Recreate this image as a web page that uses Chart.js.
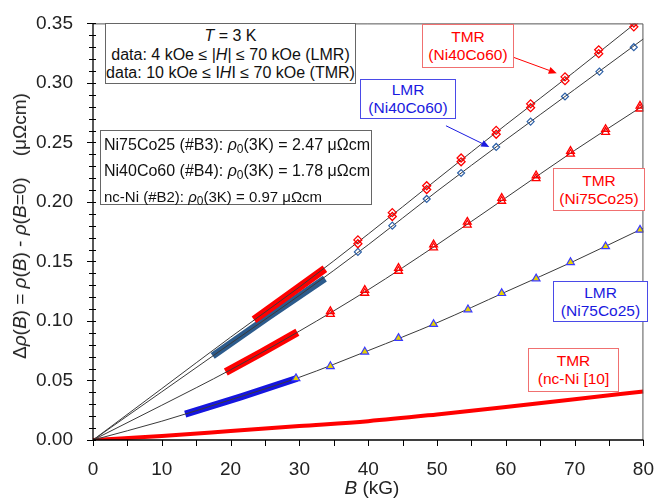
<!DOCTYPE html>
<html>
<head>
<meta charset="utf-8">
<script src="https://cdn.jsdelivr.net/npm/chart.js@4.4.1/dist/chart.umd.min.js"></script>
<style>
  html, body { margin:0; padding:0; background:#fff; }
  #wrap { position:relative; width:664px; height:500px; font-family:"Liberation Sans", Arial, sans-serif; }
  #c { position:absolute; left:0; top:0; }
  .box { position:absolute; box-sizing:border-box; background:#fff; }
  .lbl { position:absolute; box-sizing:border-box; text-align:center; font-size:15.5px; line-height:18px; background:#fff; }
  .red { color:#ff0000; border:1px solid #f07070; }
  .blue { color:#1a1ae0; border:1px solid #4a4ae8; }
  i { font-style:italic; }
</style>
</head>
<body>
<div id="wrap">
  <canvas id="c" width="664" height="500"></canvas>

  <div class="box" style="left:105px;top:23px;width:251px;height:61px;border:1px solid #666;font-size:16px;line-height:18.5px;text-align:center;color:#111;padding-top:3px;">
    <div><i>T</i> = 3 K</div>
    <div>data: 4 kOe ≤ |<i>H</i>| ≤ 70 kOe (LMR)</div>
    <div>data: 10 kOe ≤ I<i>H</i>I ≤ 70 kOe (TMR)</div>
  </div>

  <div class="box" style="left:100px;top:130px;width:272px;height:75px;border:1px solid #666;font-size:16px;line-height:22px;color:#111;padding-left:3px;padding-top:3px;white-space:nowrap;">
    <div>Ni75Co25 (#B3): <i>ρ</i><sub style="font-size:12px;vertical-align:-3px;">0</sub>(3K) = 2.47 μΩcm</div>
    <div>Ni40Co60 (#B4): <i>ρ</i><sub style="font-size:12px;vertical-align:-3px;">0</sub>(3K) = 1.78 μΩcm</div>
    <div style="font-size:15px;">nc-Ni (#B2): <i>ρ</i><sub style="font-size:12px;vertical-align:-3px;">0</sub>(3K) = 0.97 μΩcm</div>
  </div>

  <div class="lbl red"  style="left:422px;top:24px;width:92px;height:44px;padding-top:3px;">TMR<br>(Ni40Co60)</div>
  <div class="lbl blue" style="left:360px;top:79px;width:96px;height:40px;padding-top:1px;">LMR<br>(Ni40Co60)</div>
  <div class="lbl red"  style="left:553px;top:168px;width:92px;height:43px;padding-top:3px;">TMR<br>(Ni75Co25)</div>
  <div class="lbl blue" style="left:553px;top:281px;width:95px;height:41px;padding-top:2px;">LMR<br>(Ni75Co25)</div>
  <div class="lbl red"  style="left:528px;top:348px;width:91px;height:44px;padding-top:3px;">TMR<br>(nc-Ni [10]</div>

  <div id="ytitle" style="position:absolute;left:20px;top:226px;transform:translate(-50%,-50%) rotate(-90deg);white-space:nowrap;font-size:19px;color:#222;">
    Δ<i>ρ</i>(<i>B</i>) = <i>ρ</i>(<i>B</i>) - <i>ρ</i>(<i>B</i>=0)&nbsp;&nbsp;&nbsp;&nbsp;(μΩcm)
  </div>
  <div id="xtitle" style="position:absolute;left:372px;top:488px;transform:translate(-50%,-50%);white-space:nowrap;font-size:19px;color:#222;">
    <i>B</i> (kG)
  </div>
</div>

<script>
// ---------------- data ----------------
const X_TICKS = [0, 10, 20, 30, 40, 50, 60, 70, 80];
const Y_TICKS = ["0.00","0.05","0.10","0.15","0.20","0.25","0.30","0.35"];

// TMR Ni40Co60 (open red diamonds, two field polarities)
const B_TMR_4060 = [38.5, 43.5, 48.5, 53.5, 58.6, 63.6, 68.6, 73.5, 78.6];
const TMR_4060_UP = [0.1681, 0.1910, 0.2136, 0.2369, 0.2601, 0.2824, 0.3051, 0.3278, 0.3503];
const TMR_4060_DN = [0.1649, 0.1878, 0.2104, 0.2337, 0.2569, 0.2792, 0.3019, 0.3246, 0.3471];

// LMR Ni40Co60 (small open blue diamonds)
const B_LMR_4060 = [38.5, 43.5, 48.5, 53.5, 58.6, 63.6, 68.6, 73.6, 78.6];
const LMR_4060 = [0.1580, 0.1801, 0.2025, 0.2243, 0.2462, 0.2675, 0.2886, 0.3095, 0.3300];

// TMR Ni75Co25 (open red triangles, two field polarities)
const B_TMR_7525 = [34.5, 39.5, 44.4, 49.5, 54.4, 59.4, 64.4, 69.4, 74.5, 79.5];
const TMR_7525_UP = [0.1081, 0.1259, 0.1444, 0.1641, 0.1832, 0.2032, 0.2222, 0.2427, 0.2611, 0.2807];
const TMR_7525_DN = [0.1057, 0.1235, 0.1420, 0.1617, 0.1808, 0.2008, 0.2198, 0.2403, 0.2587, 0.2783];

// LMR Ni75Co25 (yellow triangles, blue edge)
const B_LMR_7525 = [29.5, 34.5, 39.5, 44.4, 49.5, 54.5, 59.4, 64.4, 69.4, 74.5, 79.5];
const LMR_7525 = [0.0518, 0.0619, 0.0741, 0.0856, 0.0973, 0.1096, 0.1233, 0.1356, 0.1493, 0.1626, 0.1765];

// dense low-field sweeps (thick bands)
const B_BAND_TMR_4060 = [23.4, 28.5, 33.7];  const BAND_TMR_4060 = [0.1010, 0.1222, 0.1438];
const B_BAND_LMR_4060 = [17.4, 25.5, 33.7];  const BAND_LMR_4060 = [0.0706, 0.1035, 0.1356];
const B_BAND_TMR_7525 = [19.3, 24.5, 29.7];  const BAND_TMR_7525 = [0.0572, 0.0735, 0.0905];
const B_BAND_LMR_7525 = [13.4, 21.5, 29.7];  const BAND_LMR_7525 = [0.0217, 0.0362, 0.0519];

// fitted curves (thin dark lines)
const B_FIT = [0, 10, 20, 30, 40, 50, 60, 70, 80];
const FIT_TMR_4060 = [0, 0.0432, 0.0864, 0.1285, 0.1730, 0.2190, 0.2648, 0.3095, 0.3555];
const FIT_LMR_4060 = [0, 0.0405, 0.0811, 0.1215, 0.1640, 0.2090, 0.2522, 0.2945, 0.3370];
const FIT_TMR_7525 = [0, 0.0292, 0.0590, 0.0915, 0.1262, 0.1640, 0.2035, 0.2433, 0.2810];
const FIT_LMR_7525 = [0, 0.0158, 0.0338, 0.0527, 0.0751, 0.0985, 0.1245, 0.1505, 0.1780];

// TMR nc-Ni [10] (thick red curve)
const B_NCNI = [0, 10, 20, 30, 40, 50, 60, 70, 80];
const TMR_NCNI = [0, 0.0034, 0.0075, 0.0117, 0.0158, 0.0215, 0.0278, 0.0342, 0.0408];

// ---------------- build ----------------
const pts = (xs, ys) => xs.map((x, i) => ({ x: x, y: ys[i] }));
const RED = '#ff0000';
const CLEAR = 'rgba(255,255,255,0)';

function band(xs, ys, color, w) {
  return { data: pts(xs, ys), showLine: true, borderColor: color, borderWidth: w,
           pointRadius: 0, borderCapStyle: 'butt', tension: 0, order: 5 };
}
function fit(xs, ys) {
  return { data: pts(xs, ys), showLine: true, borderColor: '#3a3a3a', borderWidth: 1,
           pointRadius: 0, cubicInterpolationMode: 'monotone', order: 3 };
}
function markers(xs, ys, style, stroke, fill, r, bw) {
  return { data: pts(xs, ys), showLine: false, pointStyle: style, pointRadius: r,
           pointBorderColor: stroke, pointBackgroundColor: fill, pointBorderWidth: bw, order: 1 };
}

const datasets = [
  band(B_BAND_TMR_4060, BAND_TMR_4060, RED, 8),
  band(B_BAND_LMR_4060, BAND_LMR_4060, '#2c5b8c', 7),
  band(B_BAND_TMR_7525, BAND_TMR_7525, RED, 8),
  band(B_BAND_LMR_7525, BAND_LMR_7525, '#1515e0', 7),
  { data: pts(B_NCNI, TMR_NCNI), showLine: true, borderColor: RED, borderWidth: 4,
    pointRadius: 0, cubicInterpolationMode: 'monotone', order: 4 },
  fit(B_FIT, FIT_TMR_4060),
  fit(B_FIT, FIT_LMR_4060),
  fit(B_FIT, FIT_TMR_7525),
  fit(B_FIT, FIT_LMR_7525),
  markers(B_TMR_4060, TMR_4060_UP, 'rectRot', RED, CLEAR, 4, 1.3),
  markers(B_TMR_4060, TMR_4060_DN, 'rectRot', RED, CLEAR, 4, 1.3),
  markers(B_LMR_4060, LMR_4060, 'rectRot', '#2f62a8', CLEAR, 3.5, 1.2),
  markers(B_TMR_7525, TMR_7525_UP, 'triangle', RED, CLEAR, 4.5, 1.3),
  markers(B_TMR_7525, TMR_7525_DN, 'triangle', RED, CLEAR, 4.5, 1.3),
  markers(B_LMR_7525, LMR_7525, 'triangle', '#3a3aff', '#e6d200', 4.5, 1.2)
];

// arrows from label boxes to curves, in data units
const ARROWS = [
  { from: [60.6, 0.3226], to: [67.4, 0.3082], color: RED },
  { from: [51.3, 0.2640], to: [57.6, 0.2462], color: '#1a1ae0' }
];

const framePlugin = {
  id: 'frame',
  afterDatasetsDraw(chart) {
    const ctx = chart.ctx, ca = chart.chartArea;
    const xs = chart.scales.x, ys = chart.scales.y;
    ctx.save();
    ctx.strokeStyle = '#555'; ctx.lineWidth = 1;
    ctx.beginPath();
    ctx.moveTo(ca.left, ca.top + 0.5); ctx.lineTo(ca.right - 0.5, ca.top + 0.5);
    ctx.lineTo(ca.right - 0.5, ca.bottom);
    ctx.stroke();
    ctx.strokeStyle = '#000'; ctx.lineWidth = 1.3;
    ctx.beginPath();
    ctx.moveTo(ca.left, ca.top); ctx.lineTo(ca.left, ca.bottom); ctx.lineTo(ca.right, ca.bottom);
    ctx.stroke();
    ctx.lineWidth = 1;
    for (let i = 0; i <= 35; i++) {
      const y = Math.round(ys.getPixelForValue(i / 100)) + 0.5;
      const major = i % 5 === 0;
      ctx.beginPath();
      ctx.moveTo(ca.left - (major ? 6 : 4), y); ctx.lineTo(ca.left + 3, y);
      ctx.stroke();
    }
    for (let i = 0; i <= 16; i++) {
      const x = Math.round(xs.getPixelForValue(i * 5)) + 0.5;
      ctx.beginPath();
      ctx.moveTo(x, ca.bottom); ctx.lineTo(x, ca.bottom + 6);
      ctx.stroke();
    }
    ARROWS.forEach(a => {
      const x1 = xs.getPixelForValue(a.from[0]), y1 = ys.getPixelForValue(a.from[1]);
      const x2 = xs.getPixelForValue(a.to[0]), y2 = ys.getPixelForValue(a.to[1]);
      const ang = Math.atan2(y2 - y1, x2 - x1), L = 8, W = 3.5;
      ctx.strokeStyle = a.color; ctx.fillStyle = a.color; ctx.lineWidth = 1;
      ctx.beginPath(); ctx.moveTo(x1, y1);
      ctx.lineTo(x2 - L * Math.cos(ang), y2 - L * Math.sin(ang)); ctx.stroke();
      ctx.beginPath(); ctx.moveTo(x2, y2);
      ctx.lineTo(x2 - L * Math.cos(ang) + W * Math.sin(ang), y2 - L * Math.sin(ang) - W * Math.cos(ang));
      ctx.lineTo(x2 - L * Math.cos(ang) - W * Math.sin(ang), y2 - L * Math.sin(ang) + W * Math.cos(ang));
      ctx.closePath(); ctx.fill();
    });
    ctx.restore();
  }
};

new Chart(document.getElementById('c'), {
  type: 'scatter',
  data: { datasets: datasets },
  options: {
    responsive: false, animation: false, devicePixelRatio: 1,
    layout: { padding: { left: 0, right: 12, top: 13, bottom: 0 } },
    plugins: { legend: { display: false }, tooltip: { enabled: false } },
    scales: {
      x: {
        type: 'linear', min: 0, max: 80,
        afterBuildTicks: s => { s.ticks = X_TICKS.map(v => ({ value: v })); },
        ticks: { font: { family: 'Liberation Sans', size: 19 }, color: '#222', padding: 10,
                 callback: v => String(v) },
        grid: { display: false }, border: { display: false },
        afterFit: s => { s.height = 60; }
      },
      y: {
        type: 'linear', min: 0, max: 0.35,
        afterBuildTicks: s => { s.ticks = Y_TICKS.map(v => ({ value: parseFloat(v) })); },
        ticks: { font: { family: 'Liberation Sans', size: 19 }, color: '#222', padding: 12,
                 callback: (v, i) => Y_TICKS[i] },
        grid: { display: false }, border: { display: false },
        afterFit: s => { s.width = 93; }
      }
    }
  },
  plugins: [framePlugin]
});
</script>
</body>
</html>
